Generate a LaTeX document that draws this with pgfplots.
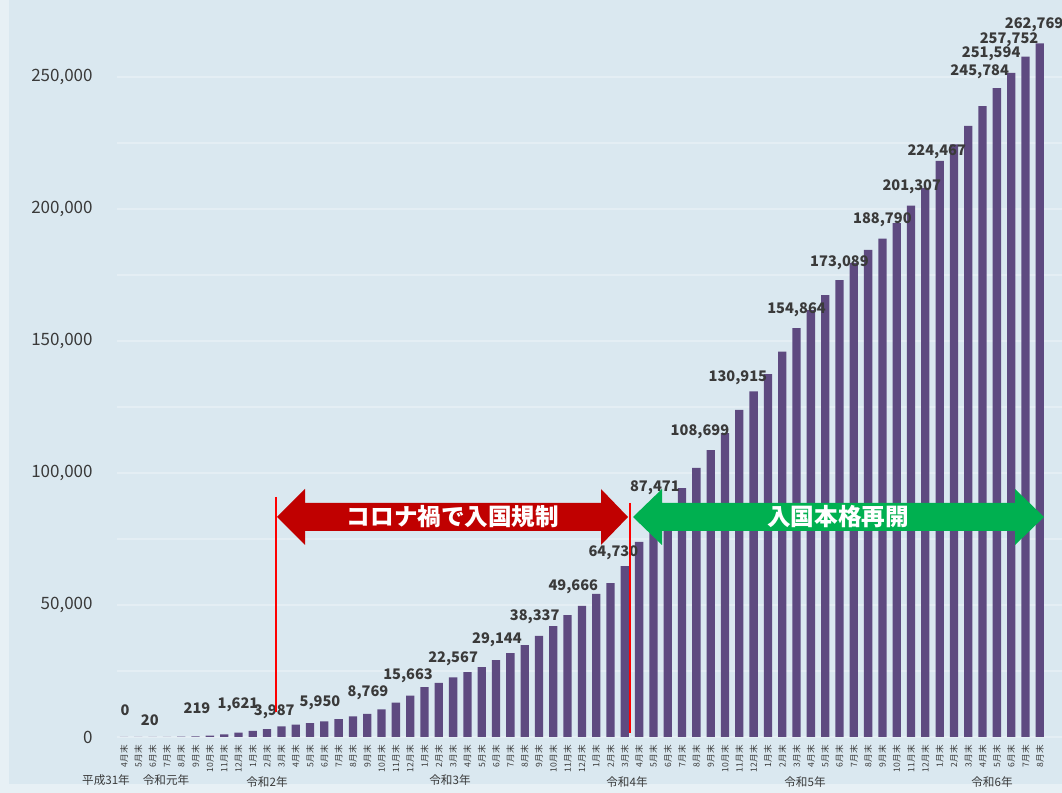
\documentclass[border=0pt]{standalone}
\usepackage{pgfplots}
\pgfplotsset{compat=1.18}
\usepackage{pgfplotstable}
\usepackage{fontspec}
\setmainfont{Noto Sans CJK JP}
\definecolor{bgc}{HTML}{DAE8F0}
\definecolor{bgedge}{HTML}{E7F0F5}
\definecolor{gridc}{HTML}{E4EEF4}
\definecolor{barc}{HTML}{5E4A80}
\definecolor{txtc}{HTML}{3A3A3A}
\definecolor{arrred}{HTML}{C00000}
\definecolor{arrgreen}{HTML}{00B050}

\pgfplotstableread{
i v
0 0
1 5
2 20
3 60
4 130
5 219
6 500
7 1000
8 1621
9 2300
10 3000
11 3987
12 4700
13 5300
14 5950
15 6800
16 7800
17 8769
18 10500
19 13000
20 15663
21 18900
22 20500
23 22567
24 24600
25 26500
26 29144
27 31800
28 34800
29 38337
30 42000
31 46200
32 49666
33 54200
34 58300
35 64730
36 73900
37 80500
38 87471
39 94300
40 101900
41 108699
42 115100
43 123900
44 130915
45 137500
46 146000
47 154864
48 161700
49 167400
50 173089
51 179600
52 184500
53 188790
54 194700
55 201307
56 208000
57 218200
58 224467
59 231500
60 239000
61 245784
62 251594
63 257752
64 262769
}\bardata

\pgfplotstableread{
x y lab
0.07 10228 0
1.8 6440 20
5.1 10985 219
7.97 12122 1,621
10.5 9470 3,987
13.7 12879 5,950
17.05 16667 8,769
19.85 23107 15,663
23.0 29546 22,567
26.06 36744 29,144
28.7 45456 38,337
31.4 56820 49,666
34.2 69699 64,730
37.1 94321 87,471
40.25 115534 108,699
42.9 135989 130,915
47.0 161748 154,864
50.0 179551 173,089
53.0 195840 188,790
55.05 208340 201,307
56.8 221598 224,467
59.8 251902 245,784
60.6 258720 251,594
61.85 264024 257,752
63.6 269706 262,769
}\labdata

\begin{document}
\begin{tikzpicture}
% background and grid (pixel coordinates, origin at top-left)
\begin{scope}[shift={(0,396.5pt)}, x=0.5pt, y=-0.5pt]
  \fill[bgedge] (0,0) rectangle (1062,793);
  \fill[bgc] (9,0) rectangle (1062,784);
  \foreach \g in {737,671,605,539,473,407,341,275,209,143,77}
    \draw[gridc, line width=0.7pt] (117,\g) -- (1062,\g);
\end{scope}

\begin{axis}[name=ax, at={(0,0)}, anchor=south west,
  scale only axis, width=531pt, height=396.5pt,
  xmin=-8.665, xmax=65.55, ymin=-21213, ymax=279176,
  axis line style={draw=none}, tick style={draw=none}, clip=false,
  scaled y ticks=false, scaled x ticks=false,
  xtick={0,...,64},
  xticklabels={4月末,5月末,6月末,7月末,8月末,9月末,10月末,11月末,12月末,1月末,2月末,3月末,
               4月末,5月末,6月末,7月末,8月末,9月末,10月末,11月末,12月末,1月末,2月末,3月末,
               4月末,5月末,6月末,7月末,8月末,9月末,10月末,11月末,12月末,1月末,2月末,3月末,
               4月末,5月末,6月末,7月末,8月末,9月末,10月末,11月末,12月末,1月末,2月末,3月末,
               4月末,5月末,6月末,7月末,8月末,9月末,10月末,11月末,12月末,1月末,2月末,3月末,
               4月末,5月末,6月末,7月末,8月末},
  xticklabel style={rotate=90, anchor=east, inner sep=0pt, font=\fontsize{4.3}{5}\selectfont, text=txtc},
  xticklabel shift=-24pt,
  ytick={0,50000,100000,150000,200000,250000},
  yticklabels={0,{50,000},{100,000},{150,000},{200,000},{250,000}},
  yticklabel style={anchor=east, inner sep=0pt, font=\fontsize{8.5}{10}\selectfont, text=txtc},
  yticklabel shift=-46.5pt,
]
\addplot[ybar, bar shift=0pt, bar width=0.58, fill=barc, draw=none] table[x=i, y=v]{\bardata};
\addplot[draw=none, mark=none, nodes near coords, point meta=explicit symbolic,
  nodes near coords style={anchor=center, inner sep=0pt, font=\bfseries\fontsize{7.3}{8}\selectfont, text=txtc}]
  table[x=x, y=y, meta=lab]{\labdata};
\end{axis}

% annotations (pixel coordinates)
\begin{scope}[shift={(0,396.5pt)}, x=0.5pt, y=-0.5pt]
  \fill[arrred] (277,517) -- (305,489) -- (305,503) -- (601,503) -- (601,489) -- (628,517)
     -- (601,545) -- (601,531) -- (305,531) -- (305,545) -- cycle;
  \fill[arrgreen] (633,517) -- (662,489) -- (662,503) -- (1015,503) -- (1015,489) -- (1044,517)
     -- (1015,545) -- (1015,531) -- (662,531) -- (662,545) -- cycle;
  \node[text=white, font=\bfseries\fontsize{11.8}{13}\selectfont, inner sep=0pt] at (453,517) {コロナ禍で入国規制};
  \node[text=white, font=\bfseries\fontsize{11.8}{13}\selectfont, inner sep=0pt] at (838,517) {入国本格再開};
  \draw[red, line width=0.9pt] (276,497) -- (276,712);
  \draw[red, line width=0.9pt] (630,503) -- (630,733);
  \begin{scope}[every node/.style={inner sep=0pt, text=txtc, font=\fontsize{5.8}{7}\selectfont}]
    \node at (106,780) {平成31年};
    \node at (166,780) {令和元年};
    \node at (267,782) {令和2年};
    \node at (450,780) {令和3年};
    \node at (627,782) {令和4年};
    \node at (805,782) {令和5年};
    \node at (992,782) {令和6年};
  \end{scope}
\end{scope}
\pgfresetboundingbox
\path (0,0) rectangle (531pt,396.5pt);
\end{tikzpicture}
\end{document}
